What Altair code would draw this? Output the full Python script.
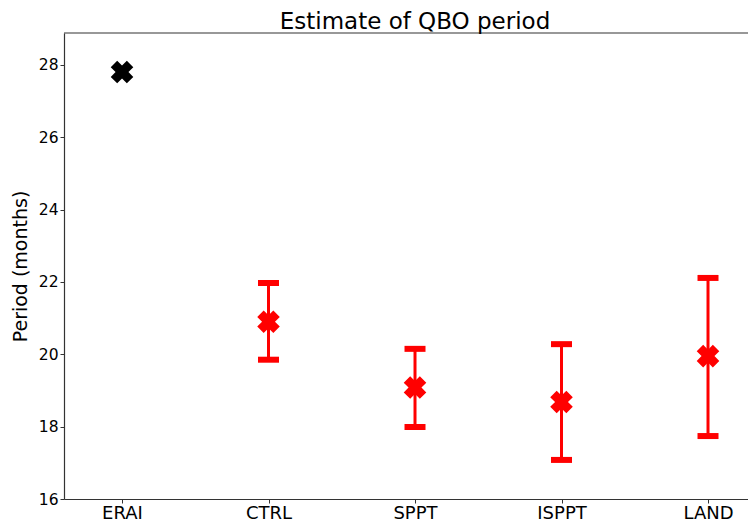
import json
import altair as alt
import pandas as pd

categories = ["ERAI", "CTRL", "SPPT", "ISPPT", "LAND"]
period = [27.8, 20.9, 19.08, 18.68, 19.95]
err_low = [None, 19.85, 17.99, 17.08, 17.74]
err_high = [None, 21.97, 20.15, 20.28, 22.11]
kind = ["obs", "model", "model", "model", "model"]

df = pd.DataFrame({
    "pos": list(range(len(categories))),
    "cat": categories,
    "period": period,
    "lo": err_low,
    "hi": err_high,
    "kind": kind,
})
err = df[df["kind"] == "model"]

W, H = 684, 466
x_dom = [-0.396, 4.273]
y_dom = [16, 28.88]
label_expr = f"{json.dumps(categories)}[datum.value]"

x = alt.X("pos:Q", scale=alt.Scale(domain=x_dom, nice=False, zero=False),
          axis=alt.Axis(values=list(range(len(categories))), labelExpr=label_expr,
                        title=None, grid=False, labelFontSize=18, labelPadding=1))
y_axis = alt.Axis(values=[16, 18, 20, 22, 24, 26, 28], grid=False, title="Period (months)",
                  labelFontSize=15.5, titleFontSize=19, titleFontWeight="normal", titlePadding=8)
yscale = alt.Scale(domain=y_dom, nice=False, zero=False)

base = alt.Chart(df)
errbase = alt.Chart(err)

rules = errbase.mark_rule(color="#ff0000", strokeWidth=3).encode(
    x=x, y=alt.Y("lo:Q", scale=yscale, axis=y_axis), y2="hi:Q")
cap_lo = errbase.mark_tick(color="#ff0000", orient="horizontal", size=21, thickness=6, opacity=1).encode(
    x=x, y=alt.Y("lo:Q", scale=yscale))
cap_hi = errbase.mark_tick(color="#ff0000", orient="horizontal", size=21, thickness=6, opacity=1).encode(
    x=x, y=alt.Y("hi:Q", scale=yscale))
pts = base.mark_point(shape="cross", angle=45, filled=True, size=520, opacity=1).encode(
    x=x, y=alt.Y("period:Q", scale=yscale),
    color=alt.Color("kind:N", scale=alt.Scale(domain=["obs", "model"], range=["#000000", "#ff0000"]), legend=None))
top = alt.Chart(pd.DataFrame({"v": [y_dom[1]]})).mark_rule(color="#333333", strokeWidth=1.2).encode(
    y=alt.Y("v:Q", scale=yscale), x=alt.value(0), x2=alt.value(W))

chart = alt.layer(rules, cap_lo, cap_hi, pts, top).properties(
    width=W, height=H,
    title=alt.TitleParams("Estimate of QBO period", fontSize=23, fontWeight="normal",
                          anchor="middle", offset=-2, dx=9),
    autosize=alt.AutoSizeParams(type="none"),
    padding={"left": 56, "top": 25, "right": 0, "bottom": 23},
).configure(font="DejaVu Sans").configure_view(stroke=None).configure_axis(
    domainColor="#333333", domainWidth=1.2, tickColor="#333333", tickSize=4,
    labelColor="#000000", titleColor="#000000", labelFont="DejaVu Sans", titleFont="DejaVu Sans"
).configure_title(font="DejaVu Sans", color="#000000")

chart.save("out.html", embed_options={"renderer": "svg", "actions": False})
